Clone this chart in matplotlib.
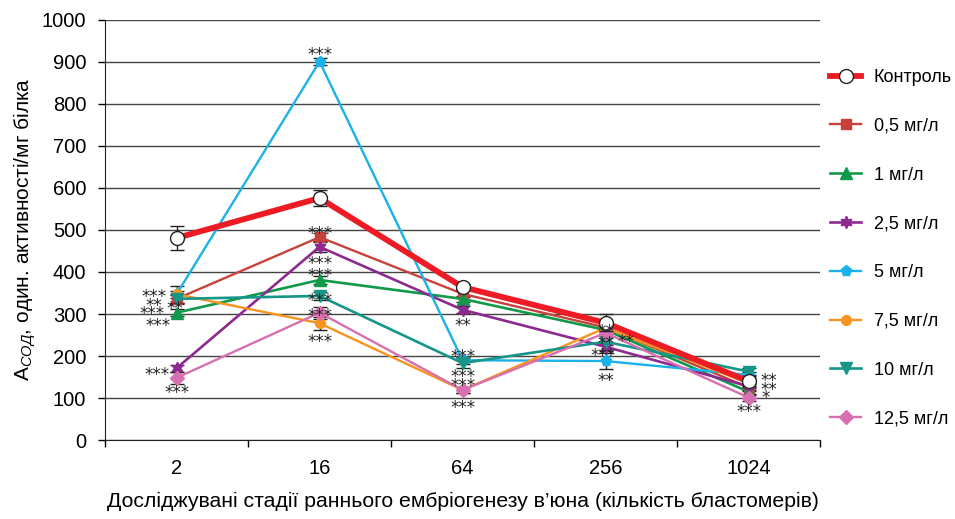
import matplotlib
matplotlib.use("Agg")
import matplotlib.pyplot as plt
import numpy as np

plt.rcParams['font.family'] = ['Liberation Sans', 'DejaVu Sans']
plt.rcParams['mathtext.fontset'] = 'custom'
plt.rcParams['mathtext.rm'] = 'Liberation Sans'
plt.rcParams['mathtext.it'] = 'Liberation Sans:italic'

# stages (number of blastomeres)
stages = ['2', '16', '64', '256', '1024']

series_names = ['Контроль', '0,5 мг/л', '1 мг/л', '2,5 мг/л', '5 мг/л',
                '7,5 мг/л', '10 мг/л', '12,5 мг/л']

control = [481, 576, 364, 279, 140]
c_05 = [336, 483, 348, 268, 125]
c_1 = [303, 381, 336, 262, 115]
c_25 = [171, 460, 310, 222, 128]
c_5 = [347, 901, 190, 188, 155]
c_75 = [347, 278, 119, 267, 135]
c_10 = [336, 343, 183, 234, 163]
c_125 = [148, 303, 119, 255, 101]

err_control = [28, 20, 8, 20, 12]
err_05 = [10, 10, 8, 8, 8]
err_1 = [8, 10, 8, 8, 8]
err_25 = [8, 12, 8, 10, 8]
err_5 = [20, 8, 8, 18, 8]
err_75 = [8, 15, 8, 8, 8]
err_10 = [12, 10, 12, 8, 8]
err_125 = [15, 14, 8, 8, 8]

# significance marks: (stage index, shift in categories, value, text)
stars = [
    (0, -0.16, 351, '***'), (0, -0.16, 329, '**'), (0, -0.17, 310, '***'),
    (0, -0.01, 321, '**'), (0, -0.13, 282, '***'), (0, -0.14, 165, '***'),
    (0, 0.0, 121, '***'),
    (1, 0.0, 927, '***'), (1, 0.0, 500, '***'), (1, 0.0, 429, '***'),
    (1, 0.0, 401, '***'), (1, 0.0, 341, '***'), (1, 0.0, 306, '***'),
    (1, 0.0, 243, '***'),
    (2, 0.0, 282, '**'), (2, 0.0, 207, '***'), (2, 0.0, 160, '***'),
    (2, 0.0, 139, '***'), (2, 0.0, 86, '***'),
    (3, 0.0, 267, '**'), (3, 0.0, 238, '**'), (3, -0.02, 210, '***'),
    (3, 0.14, 243, '**'), (3, 0.0, 151, '**'),
    (4, 0.14, 151, '**'), (4, 0.14, 129, '**'), (4, 0.12, 110, '*'),
    (4, 0.0, 76, '***'),
]

fig = plt.figure(figsize=(9.55, 5.19), dpi=100)
ax = fig.add_axes([0.110, 0.1522, 0.7487, 0.8093])

x = np.arange(len(stages))

styles = [
    dict(color='#ed1c24', lw=4.2, marker='o', ms=10, mfc='white', mec='#222222', mew=1.0, zorder=10),
    dict(color='#c9413b', lw=1.7, marker='s', ms=7, zorder=5),
    dict(color='#10994a', lw=1.9, marker='^', ms=8, zorder=5),
    dict(color='#8e2a8f', lw=1.9, marker=(6, 1, 0), ms=9, zorder=5),
    dict(color='#1ab2e8', lw=1.7, marker='p', ms=8, zorder=5),
    dict(color='#f7941d', lw=1.7, marker='o', ms=7, zorder=5),
    dict(color='#16968a', lw=1.9, marker='v', ms=8, zorder=5),
    dict(color='#d86fb0', lw=1.7, marker='D', ms=7, zorder=5),
]
values = [control, c_05, c_1, c_25, c_5, c_75, c_10, c_125]
errors = [err_control, err_05, err_1, err_25, err_5, err_75, err_10, err_125]

handles = []
for name, vals, errs, st in zip(series_names, values, errors, styles):
    z = st.pop('zorder')
    ax.errorbar(x, vals, yerr=errs, fmt='none', ecolor='#222222', elinewidth=1.0,
                capsize=5, capthick=1.0, zorder=z - 1)
    h, = ax.plot(x, vals, label=name, zorder=z, **st)
    handles.append(h)

for i, dx, v, t in stars:
    ax.annotate(t, (i + dx, v), xytext=(0, -3), textcoords='offset points',
                ha='center', va='center', fontsize=12, family='DejaVu Sans',
                color='#222222', zorder=20)

ax.set_xlim(-0.5, len(stages) - 0.5)
ax.set_ylim(0, 1000)
ax.set_yticks(np.arange(0, 1001, 100))
ax.tick_params(axis='y', labelsize=14.5, length=5, width=1, direction='out', pad=8.5)

ax.set_xticks(np.arange(-0.5, len(stages), 1.0))
ax.set_xticklabels([])
ax.tick_params(axis='x', which='major', length=5, width=1, direction='out')
ax.set_xticks(x, minor=True)
ax.set_xticklabels(stages, minor=True)
ax.tick_params(axis='x', which='minor', length=0, labelsize=14.5, pad=13.5)

ax.grid(axis='y', color='#444444', lw=1.0)
ax.set_axisbelow(True)
for s in ['top', 'right']:
    ax.spines[s].set_visible(False)
ax.spines['left'].set_color('#222222')
ax.spines['bottom'].set_color('#222222')

ax.set_xlabel('Досліджувані стадії раннього ембріогенезу в’юна (кількість бластомерів)',
              fontsize=15.3, labelpad=10)
ax.set_ylabel(r'A$_{\it СОД}$, один. активності/мг білка', fontsize=15, labelpad=3)

fig.legend(handles=handles, loc='upper left', bbox_to_anchor=(0.862, 0.881),
           frameon=False, fontsize=13, labelspacing=1.76, handlelength=1.7,
           handletextpad=0.7, borderaxespad=0)

fig.savefig('out.png', dpi=100)
